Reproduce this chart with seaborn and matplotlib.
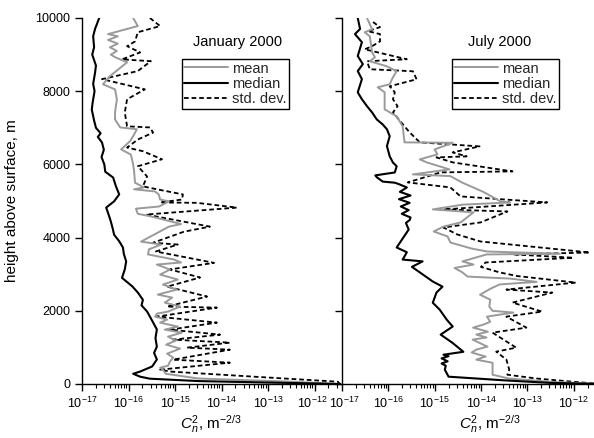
import numpy as np
import pandas as pd
import matplotlib
matplotlib.use("Agg")
import matplotlib.pyplot as plt
from matplotlib.ticker import LogLocator, NullFormatter, FixedLocator
from matplotlib.lines import Line2D
import matplotlib.transforms as mtransforms
import seaborn as sns

# ---------------- data (height in m, log10 of Cn^2) ----------------
jan_median_h = [10000, 9700, 9500, 9200, 9000, 8700, 8500, 8200, 8000, 7700, 7500, 7200, 7000,
                6850, 6750, 6600, 6400, 6200, 6000, 5800, 5640, 5400, 5180, 4990, 4820, 4600,
                4440, 4250, 4080, 3900, 3730, 3550, 3350, 3130, 2900, 2670, 2500, 2300, 2150,
                1980, 1750, 1490, 1250, 1020, 850, 670, 480, 340, 280, 200, 145, 80, 40, 10, 0]
jan_median_log = [-16.63, -16.72, -16.76, -16.74, -16.78, -16.70, -16.72, -16.76, -16.73, -16.77,
                  -16.79, -16.74, -16.70, -16.60, -16.66, -16.57, -16.53, -16.58, -16.52, -16.50,
                  -16.33, -16.27, -16.20, -16.31, -16.48, -16.42, -16.38, -16.34, -16.31, -16.20,
                  -16.12, -16.10, -16.05, -16.08, -16.14, -15.92, -15.80, -15.69, -15.72, -15.60,
                  -15.50, -15.39, -15.42, -15.39, -15.45, -15.39, -15.49, -15.75, -15.90, -15.75,
                  -15.54, -14.50, -13.00, -11.80, -11.45]

jan_mean_h = [10000, 9780, 9560, 9500, 9400, 9300, 9200, 9100, 9000, 8930, 8790, 8410, 8190, 8050,
              7780, 7420, 7230, 7010, 6960, 6770, 6630, 6410, 6270, 6000, 5820, 5500, 5370, 5320,
              5260, 5180, 5040, 4990, 4850, 4790, 4650, 4580, 4370, 4300, 3890, 3810, 3680, 3540,
              3400, 3320, 3264, 3127, 2990, 2853, 2717, 2580, 2443, 2360, 2224, 2115, 1978, 1923,
              1841, 1759, 1677, 1568, 1485, 1403, 1294, 1185, 1076, 966, 829, 720, 610, 500, 446,
              392, 280, 150, 63, 0]
jan_mean_log = [-15.90, -15.80, -16.44, -16.23, -16.44, -16.23, -16.40, -16.25, -16.38, -16.29,
                -16.03, -16.40, -16.55, -16.29, -16.25, -16.29, -16.29, -16.18, -15.82, -15.90,
                -15.97, -16.16, -15.95, -15.90, -15.88, -15.86, -15.67, -15.88, -15.43, -15.35,
                -15.32, -15.13, -15.34, -15.84, -15.80, -15.52, -14.87, -15.13, -15.73, -15.30,
                -15.56, -15.58, -15.02, -14.87, -15.39, -15.11, -15.32, -14.94, -15.26, -14.96,
                -15.37, -15.06, -15.22, -14.89, -15.15, -15.39, -15.43, -15.17, -15.32, -14.94,
                -15.22, -14.85, -15.15, -14.98, -15.19, -14.89, -15.17, -15.04, -15.11, -15.15,
                -15.32, -15.26, -15.20, -14.50, -12.50, -11.45]

jan_std_h = [10000, 9780, 9610, 9360, 9230, 9060, 8870, 8820, 8550, 8330, 8050, 7780, 7420, 7040,
             7010, 6870, 6680, 6460, 6360, 6140, 5950, 5670, 5400, 5320, 5180, 5040, 4960, 4950,
             4820, 4630, 4300, 4160, 3860, 3810, 3620, 3310, 3130, 2910, 2660, 2390, 2115, 2087,
             1841, 1759, 1677, 1485, 1349, 1212, 1130, 993, 938, 665, 583, 392, 340, 200, 63, 0]
jan_std_log = [-15.54, -15.32, -15.80, -15.86, -16.03, -15.75, -16.14, -15.52, -15.80, -16.57,
               -15.65, -16.03, -16.08, -16.03, -15.54, -15.47, -15.80, -16.03, -15.69, -15.28,
               -15.80, -15.60, -15.69, -15.39, -14.83, -14.85, -15.32, -14.53, -13.67, -15.62,
               -14.25, -14.81, -15.47, -14.94, -15.41, -14.16, -15.11, -14.46, -15.17, -14.31,
               -15.17, -14.10, -15.39, -14.74, -14.10, -15.11, -14.03, -15.04, -13.82, -14.74,
               -13.82, -15.04, -13.82, -15.32, -15.11, -13.30, -11.50, -11.45]

jul_median_h = [10000, 9700, 9560, 9340, 8960, 8740, 8550, 8330, 7970, 7780, 7590, 7420, 7230,
                7090, 6960, 6770, 6500, 6220, 6050, 5950, 5780, 5700, 5650, 5530, 5500, 5450,
                5370, 5250, 5150, 5050, 4950, 4850, 4750, 4650, 4550, 4480, 4400, 4220, 3730,
                3600, 3400, 3350, 3200, 3050, 2800, 2660, 2500, 2220, 2030, 1760, 1570, 1350,
                1120, 880, 800, 760, 700, 620, 560, 500, 390, 250, 200, 100, 30, 0]
jul_median_log = [-16.66, -16.61, -16.72, -16.57, -16.66, -16.55, -16.66, -16.57, -16.66, -16.57,
                  -16.46, -16.35, -16.25, -16.12, -16.03, -15.97, -16.03, -15.97, -15.90, -15.82,
                  -15.86, -16.28, -16.25, -16.12, -15.86, -15.75, -15.60, -15.75, -15.52, -15.77,
                  -15.54, -15.73, -15.56, -15.71, -15.52, -15.54, -15.62, -15.56, -15.82, -15.60,
                  -15.69, -15.26, -15.49, -15.32, -15.04, -14.83, -14.96, -15.04, -14.89, -14.74,
                  -14.61, -14.87, -14.61, -14.38, -14.81, -14.70, -14.85, -14.72, -14.85, -14.76,
                  -14.78, -14.72, -14.70, -13.50, -12.50, -11.40]

jul_mean_h = [10000, 9693, 9610, 9500, 9064, 8927, 8818, 8680, 8545, 8381, 8189, 8107, 7970, 7505,
              7313, 7040, 6602, 6590, 6410, 6274, 6137, 6055, 5864, 5727, 5680, 5500, 5250, 4990,
              4960, 4900, 4770, 4690, 4414, 4300, 4167, 4030, 3866, 3700, 3620, 3560, 3540, 3350,
              3264, 3170, 3050, 2935, 2880, 2790, 2720, 2600, 2440, 2306, 2115, 2000, 1951, 1841,
              1700, 1622, 1540, 1430, 1350, 1270, 1212, 1021, 940, 860, 750, 665, 580, 400, 254,
              150, 60, 0]
jul_mean_log = [-16.46, -16.35, -16.51, -16.40, -16.35, -16.29, -16.40, -16.03, -15.82, -15.90,
                -15.97, -16.23, -16.08, -16.08, -15.82, -15.69, -15.65, -14.61, -15.00, -14.94,
                -15.32, -15.17, -14.68, -15.47, -14.66, -14.40, -13.95, -13.58, -13.37, -14.40,
                -15.04, -14.16, -14.44, -14.81, -15.02, -14.72, -14.66, -14.20, -13.86, -12.30,
                -13.88, -14.40, -14.16, -14.57, -14.40, -14.29, -13.37, -12.80, -13.60, -13.80,
                -14.02, -13.80, -13.82, -13.75, -13.30, -13.87, -13.80, -13.95, -14.17, -13.85,
                -14.10, -13.88, -14.18, -13.86, -14.10, -14.20, -13.90, -14.10, -13.75, -13.75,
                -13.75, -13.40, -12.50, -11.40]

jul_std_h = [9890, 9750, 9640, 9560, 9360, 9230, 9145, 8873, 8818, 8600, 8545, 8326, 8134, 7970,
             7780, 7590, 7420, 7040, 6875, 6602, 6492, 6328, 6219, 6192, 6055, 5809, 5782, 5508,
             5371, 5125, 4961, 4769, 4714, 4414, 4277, 4085, 3894, 3593, 3540, 3450, 3320, 3200,
             3050, 2950, 2771, 2580, 2498, 2224, 1978, 1841, 1540, 1403, 993, 884, 665, 392, 254,
             150, 60, 0]
jul_std_log = [-16.33, -16.18, -16.44, -16.18, -16.18, -16.35, -16.51, -15.60, -16.46, -16.40,
               -15.47, -15.39, -15.97, -15.86, -15.90, -15.80, -15.90, -15.65, -15.54, -15.32,
               -14.03, -14.61, -14.31, -14.96, -14.61, -13.32, -14.87, -15.58, -14.66, -14.44,
               -12.57, -14.81, -13.43, -14.01, -14.81, -14.51, -14.01, -11.65, -13.30, -12.01,
               -13.90, -14.00, -13.60, -13.22, -11.95, -13.45, -12.46, -13.32, -12.68, -13.45,
               -13.02, -13.75, -13.24, -13.67, -13.45, -13.39, -13.43, -12.80, -12.00, -11.40]

panel_titles = ["January 2000", "July 2000"]
series_labels = ["mean", "median", "std. dev."]
xtick_exps = [-17, -16, -15, -14, -13, -12]
ytick_vals = [0, 2000, 4000, 6000, 8000, 10000]

# ---------------- style ----------------
sns.set_style("ticks")
plt.rcParams["font.family"] = ["Liberation Sans", "DejaVu Sans"]
plt.rcParams["mathtext.fontset"] = "custom"
plt.rcParams["mathtext.rm"] = "Liberation Sans"
plt.rcParams["mathtext.it"] = "Liberation Sans:italic"
plt.rcParams["mathtext.default"] = "regular"

W, H = 594, 438
fig = plt.figure(figsize=(W / 100, H / 100), dpi=100)

def frac(x0, y0, x1, y1):
    return [x0 / W, 1 - y1 / H, (x1 - x0) / W, (y1 - y0) / H]

ax1 = fig.add_axes(frac(82, 18, 341, 384))
ax2 = fig.add_axes(frac(342, 18, 600, 384))

GRAY = "#9a9a9a"
DASH = (0, (2.6, 1.6))
panels = [
    (ax1, jan_mean_h, jan_mean_log, jan_median_h, jan_median_log, jan_std_h, jan_std_log),
    (ax2, jul_mean_h, jul_mean_log, jul_median_h, jul_median_log, jul_std_h, jul_std_log),
]

xmax = 10 ** (-17 + 259 / 46.5)
for i, (ax, mh, ml, dh, dl, sh, sl) in enumerate(panels):
    sns.lineplot(x=10 ** np.array(sl), y=sh, sort=False, estimator=None, ax=ax,
                 color="black", lw=1.3, linestyle=DASH)
    sns.lineplot(x=10 ** np.array(ml), y=mh, sort=False, estimator=None, ax=ax,
                 color=GRAY, lw=1.4)
    sns.lineplot(x=10 ** np.array(dl), y=dh, sort=False, estimator=None, ax=ax,
                 color="black", lw=1.5)
    ax.set_xscale("log")
    ax.set_xlim(1e-17, xmax)
    ax.set_ylim(0, 10000)
    ax.xaxis.set_major_locator(FixedLocator([10.0 ** e for e in xtick_exps]))
    ax.xaxis.set_minor_locator(LogLocator(base=10, subs=np.arange(2, 10), numticks=20))
    ax.xaxis.set_minor_formatter(NullFormatter())
    ax.set_xticklabels([f"10$^{{{e}}}$" for e in xtick_exps])
    ax.set_yticks(ytick_vals)
    ax.tick_params(axis="both", which="major", direction="out", length=5, width=1,
                   labelsize=9, color="black", labelcolor="black")
    ax.tick_params(axis="x", which="minor", direction="out", length=3, width=0.8, color="black")
    for s in ["top", "right"]:
        ax.spines[s].set_visible(False)
    for s in ["left", "bottom"]:
        ax.spines[s].set_linewidth(1.0)
        ax.spines[s].set_color("black")
    ax.set_xlabel("$\\mathit{C}_{\\mathit{n}}^{2}$, m$^{-2/3}$", fontsize=11, color="black")
    ax.set_ylabel("")
    handles = [Line2D([], [], color=GRAY, lw=1.4),
               Line2D([], [], color="black", lw=1.5),
               Line2D([], [], color="black", lw=1.3, linestyle=DASH)]
    ax.legend(handles, series_labels, loc="upper left",
              bbox_to_anchor=(0.386 if i == 0 else 0.426, 0.887),
              frameon=True, fancybox=False, edgecolor="black", framealpha=1,
              fontsize=10.5, handlelength=3.0, handletextpad=0.3, borderpad=0.15,
              labelspacing=0.1, borderaxespad=0)
    ax.get_legend().get_frame().set_linewidth(1.0)
    ax.text(0.602 if i == 0 else 0.612, 0.934, panel_titles[i], transform=ax.transAxes,
            ha="center", va="center", fontsize=10.5, color="black")

# nudge the two adjoining edge labels apart slightly
fig.canvas.draw()
lbl_left = ax1.get_xticklabels()[-1]
lbl_left.set_transform(lbl_left.get_transform() + mtransforms.ScaledTranslation(-2 / 100, 0, fig.dpi_scale_trans))
lbl_right = ax2.get_xticklabels()[0]
lbl_right.set_transform(lbl_right.get_transform() + mtransforms.ScaledTranslation(2 / 100, 0, fig.dpi_scale_trans))

ax1.set_ylabel("height above surface, m", fontsize=11, color="black")
ax1.yaxis.set_label_coords(-0.245, 0.5)
ax1.xaxis.set_label_coords(0.5, -0.08)
ax2.tick_params(axis="y", labelleft=False)
ax2.xaxis.set_label_coords((490 - 342) / 258, -0.08)

fig.savefig("out.png", dpi=100)
